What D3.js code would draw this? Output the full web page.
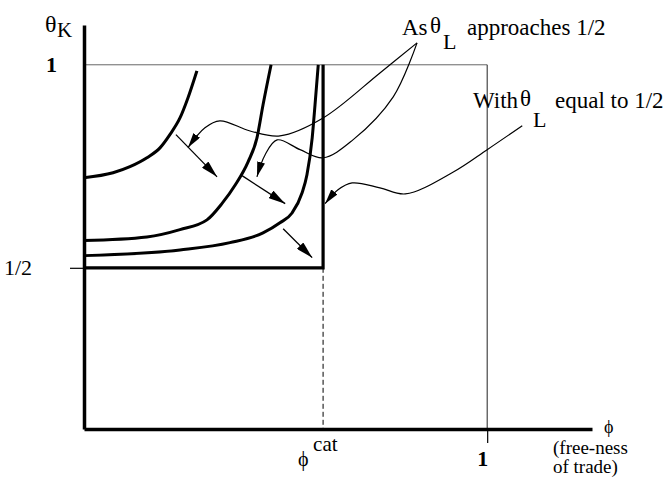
<!DOCTYPE html>
<html>
<head>
<meta charset="utf-8">
<script src="https://cdn.jsdelivr.net/npm/d3@7"></script>
<style>
body{margin:0;background:#fff}
svg{font-family:"Liberation Serif","Times New Roman",serif}
</style>
</head>
<body>
<svg id="chart" width="665" height="480"></svg>
<script>
// phi = free-ness of trade, theta = theta_K
const phiCat = 0.593;
const curve1 = [[0,0.722],[0.072,0.734],[0.114,0.749],[0.156,0.771],[0.189,0.796],[0.213,0.828],[0.238,0.869],[0.258,0.919],[0.280,0.985]];
const curve2 = [[0,0.567],[0.156,0.576],[0.238,0.594],[0.305,0.618],[0.342,0.658],[0.375,0.704],[0.407,0.761],[0.429,0.820],[0.444,0.901],[0.464,1.0]];
const curve3 = [[0,0.530],[0.238,0.544],[0.362,0.562],[0.444,0.586],[0.486,0.611],[0.516,0.635],[0.541,0.685],[0.553,0.729],[0.566,0.820],[0.573,0.901],[0.581,1.0]];
const shiftArrows = [
  [[0.228,0.828],[0.330,0.724]],
  [[0.392,0.727],[0.499,0.658]],
  [[0.494,0.596],[0.566,0.525]]
];
const leader1 = [[0.826,1.054],[0.734,0.980],[0.593,0.869],[0.486,0.825],[0.412,0.837],[0.337,0.862],[0.300,0.845],[0.258,0.796]];
const leader2 = [[0.826,1.054],[0.767,0.921],[0.667,0.815],[0.593,0.771],[0.536,0.791],[0.479,0.815],[0.449,0.778],[0.429,0.724]];
const leader3 = [[1.087,0.850],[1.0,0.791],[0.916,0.736],[0.797,0.682],[0.734,0.697],[0.665,0.709],[0.630,0.692],[0.598,0.658]];
const yTicks = [0.5, 1];
const yTickLabels = ["1/2", "1"];
const xTicks = [1];

const svg = d3.select("#chart");
const x = d3.scaleLinear().domain([0,1.26]).range([84,592]);
const y = d3.scaleLinear().domain([0.103,1.098]).range([429,25]);

svg.append("defs").selectAll("marker")
  .data([["big",17,9],["small",15,8]])
  .enter().append("marker")
  .attr("id", d => "head-" + d[0])
  .attr("viewBox", d => "0 0 " + d[1] + " " + d[2])
  .attr("refX", d => d[1]).attr("refY", d => d[2]/2)
  .attr("markerWidth", d => d[1]).attr("markerHeight", d => d[2])
  .attr("markerUnits","userSpaceOnUse")
  .attr("orient","auto")
  .append("path")
  .attr("d", d => "M0,0L" + d[1] + "," + d[2]/2 + "L0," + d[2] + "Z")
  .attr("fill","#000");

// frame at theta=1 and phi=1
svg.append("line")
  .attr("x1", x(0)).attr("x2", x(1)).attr("y1", y(1)).attr("y2", y(1))
  .attr("stroke","#666").attr("stroke-width",1);
svg.append("line")
  .attr("x1", x(1)).attr("x2", x(1)).attr("y1", y(1)).attr("y2", y(0.103))
  .attr("stroke","#222").attr("stroke-width",1);

// axes
const xAxis = svg.append("g")
  .attr("transform","translate(0," + y(0.103) + ")")
  .call(d3.axisBottom(x).tickValues(xTicks).tickSize(14).tickSizeOuter(0).tickPadding(7).tickFormat(d => d));
const yAxis = svg.append("g")
  .attr("transform","translate(" + x(0) + ",0)")
  .call(d3.axisLeft(y).tickValues(yTicks).tickSize(14).tickSizeOuter(0).tickFormat((d,i) => yTickLabels[i]));

[xAxis, yAxis].forEach(g => {
  g.select(".domain").attr("stroke","#000").attr("stroke-width",3.5);
  g.selectAll(".tick line").attr("stroke","#000").attr("stroke-width",1.2);
  g.selectAll("text").attr("font-family","Liberation Serif").attr("font-size",22).attr("fill","#000");
});
xAxis.selectAll(".tick text").attr("font-weight","bold").attr("x",-5);
yAxis.selectAll(".tick").each(function(d){
  const t = d3.select(this);
  if (d === 1) {
    t.select("line").remove();
    t.select("text").attr("x",-27).attr("font-weight","bold");
  } else {
    t.select("text").attr("x",-52);
  }
});

// catastrophe boundary
svg.append("path")
  .attr("d", d3.line().x(d => x(d[0])).y(d => y(d[1]))([[0,0.5],[phiCat,0.5],[phiCat,1]]))
  .attr("fill","none").attr("stroke","#000").attr("stroke-width",3.2);
svg.append("line")
  .attr("x1", x(phiCat)).attr("x2", x(phiCat)).attr("y1", y(0.5)).attr("y2", y(0.103))
  .attr("stroke","#000").attr("stroke-width",1).attr("stroke-dasharray","5,3");

const smooth = d3.line().x(d => x(d[0])).y(d => y(d[1])).curve(d3.curveMonotoneX);
svg.append("g").selectAll("path")
  .data([curve1, curve2, curve3])
  .enter().append("path")
  .attr("d", smooth)
  .attr("fill","none").attr("stroke","#000").attr("stroke-width",3);

const straight = d3.line().x(d => x(d[0])).y(d => y(d[1]));
svg.append("g").selectAll("path")
  .data(shiftArrows)
  .enter().append("path")
  .attr("d", straight)
  .attr("stroke","#000").attr("stroke-width",1.3)
  .attr("marker-end","url(#head-big)");

const wavy = d3.line().x(d => x(d[0])).y(d => y(d[1])).curve(d3.curveCatmullRom);
svg.append("g").selectAll("path")
  .data([leader1, leader2, leader3])
  .enter().append("path")
  .attr("d", wavy)
  .attr("fill","none").attr("stroke","#000").attr("stroke-width",1.2)
  .attr("marker-end","url(#head-small)");

// labels
const txt = (px, py, s, size) => svg.append("text")
  .attr("x", px).attr("y", py)
  .attr("font-family","Liberation Serif")
  .attr("font-size", size).attr("fill","#000").text(s);

txt(45, 32, "θ", 24);
txt(57, 37, "K", 21);

txt(402, 35, "As", 23);
txt(430, 33, "θ", 23);
txt(443, 49, "L", 22);
txt(467, 35, "approaches 1/2", 23);

txt(473, 108, "With", 23);
txt(520, 106, "θ", 23);
txt(533, 127, "L", 22);
txt(555, 108, "equal to 1/2", 23);

txt(x(phiCat) - 25, 466, "ϕ", 20);
txt(x(phiCat) - 10, 451, "cat", 21);

txt(604, 433, "ϕ", 18);
txt(553, 454, "(free-ness", 19);
txt(553, 473, "of trade)", 19);
</script>
</body>
</html>
